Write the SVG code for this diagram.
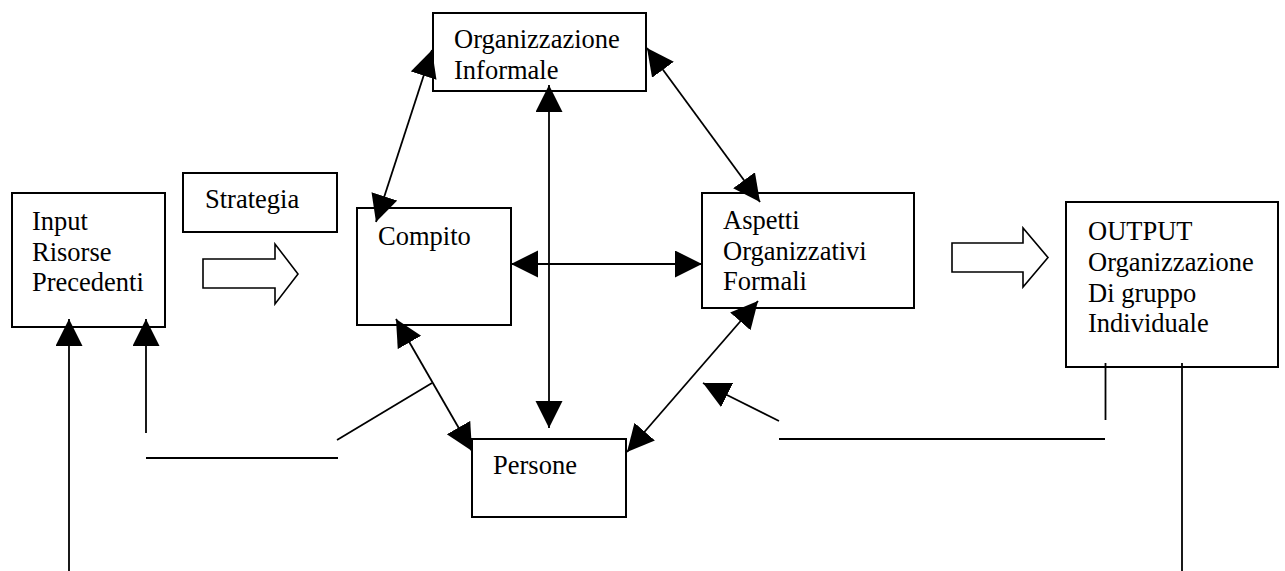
<svg xmlns="http://www.w3.org/2000/svg" width="1285" height="571" viewBox="0 0 1285 571">
<style>
.box{fill:#fff;stroke:#000;stroke-width:2}
.t{font-family:"Liberation Serif","Times New Roman",serif;font-size:26.5px;fill:#000}
.ln{stroke:#000;stroke-width:1.8;fill:none}
.hol{fill:#fff;stroke:#000;stroke-width:1.6;stroke-linejoin:miter}
</style>
<defs>
<marker id="ah" markerUnits="userSpaceOnUse" markerWidth="28" markerHeight="28" refX="27" refY="13.5" orient="auto-start-reverse" viewBox="0 0 28 28">
<path d="M0,0 L27,13.5 L0,27 Z" fill="#000"/>
</marker>
</defs>
<rect width="1285" height="571" fill="#fff"/>
<g id="input">
<rect class="box" x="12" y="193" width="153" height="134"/>
<text class="t" x="32" y="230">Input</text>
<text class="t" x="32" y="260.5">Risorse</text>
<text class="t" x="32" y="291">Precedenti</text>
</g>
<g id="strategia">
<rect class="box" x="183" y="173" width="154" height="59"/>
<text class="t" x="205" y="208">Strategia</text>
</g>
<g id="org-informale">
<rect class="box" x="433" y="13" width="213" height="78"/>
<text class="t" x="454" y="48">Organizzazione</text>
<text class="t" x="454" y="79">Informale</text>
</g>
<g id="compito">
<rect class="box" x="357" y="208" width="154" height="117"/>
<text class="t" x="378" y="245">Compito</text>
</g>
<g id="aspetti">
<rect class="box" x="702" y="193" width="212" height="115"/>
<text class="t" x="723" y="229">Aspetti</text>
<text class="t" x="723" y="259.5">Organizzativi</text>
<text class="t" x="723" y="290">Formali</text>
</g>
<g id="persone">
<rect class="box" x="472" y="439" width="154" height="78"/>
<text class="t" x="493" y="474">Persone</text>
</g>
<g id="output">
<rect class="box" x="1066" y="202" width="212" height="165"/>
<text class="t" x="1088" y="240">OUTPUT</text>
<text class="t" x="1088" y="271">Organizzazione</text>
<text class="t" x="1088" y="302">Di gruppo</text>
<text class="t" x="1088" y="332">Individuale</text>
</g>
<g id="connectors">
<polygon class="hol" points="203,259 275,259 275,244 298,274 275,304 275,288 203,288"/>
<polygon class="hol" points="952,243 1023,243 1023,228 1048,257.5 1023,287 1023,272 952,272"/>
<line class="ln" x1="376" y1="222" x2="432" y2="50" marker-start="url(#ah)" marker-end="url(#ah)"/>
<line class="ln" x1="647" y1="48" x2="760" y2="202" marker-start="url(#ah)" marker-end="url(#ah)"/>
<line class="ln" x1="549" y1="85" x2="549" y2="428" stroke-width="2" marker-start="url(#ah)" marker-end="url(#ah)"/>
<line class="ln" x1="511" y1="264" x2="702" y2="264" stroke-width="2.2" marker-start="url(#ah)" marker-end="url(#ah)"/>
<line class="ln" x1="396" y1="319" x2="472" y2="451" marker-start="url(#ah)" marker-end="url(#ah)"/>
<line class="ln" x1="627" y1="452" x2="758" y2="301" marker-start="url(#ah)" marker-end="url(#ah)"/>
<line class="ln" x1="69" y1="571" x2="69" y2="319" stroke-width="2" marker-end="url(#ah)"/>
<line class="ln" x1="146" y1="433" x2="146" y2="319" stroke-width="2" marker-end="url(#ah)"/>
<polyline class="ln" points="146,458 338,458"/>
<polyline class="ln" points="337,440 432,383"/>
<line class="ln" x1="779" y1="421" x2="703" y2="383" marker-end="url(#ah)"/>
<polyline class="ln" points="779,439 1105,439"/>
<polyline class="ln" points="1105.5,363 1105.5,420"/>
<polyline class="ln" points="1182,363 1182,571"/>
</g>
</svg>
